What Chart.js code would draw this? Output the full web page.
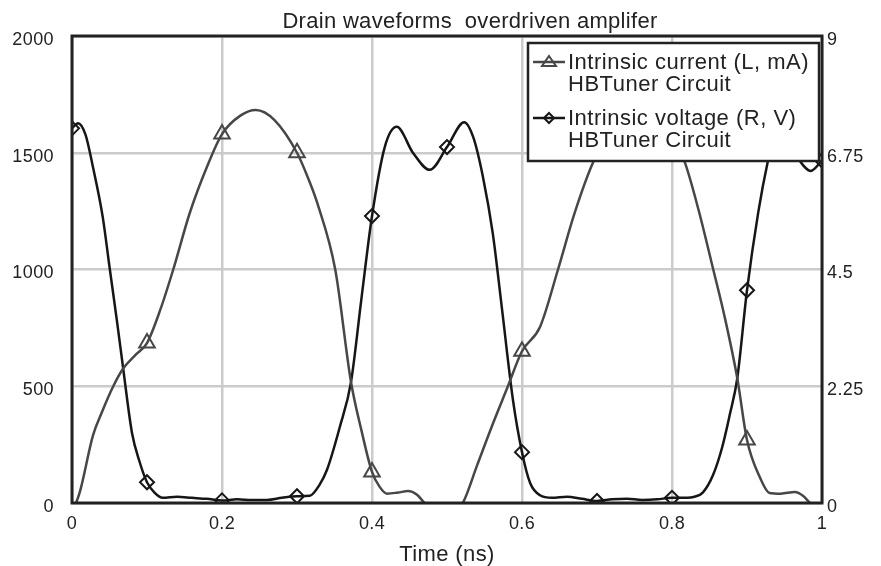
<!DOCTYPE html>
<html>
<head>
<meta charset="utf-8">
<title>Drain waveforms</title>
<script src="https://cdn.jsdelivr.net/npm/chart.js@4"></script>
<style>
  body { margin: 0; background: #fff; }
  #chart { display: block; }
</style>
</head>
<body>
<canvas id="chart" width="881" height="566"></canvas>
<script>
// Intrinsic current (left axis, mA)
const currentTime = [0, 0.01, 0.028, 0.04, 0.055, 0.068, 0.085, 0.1, 0.118, 0.135, 0.157, 0.18, 0.2, 0.225, 0.245, 0.27, 0.3, 0.315, 0.327, 0.351, 0.372, 0.386, 0.4, 0.41, 0.42, 0.435, 0.448, 0.46, 0.47, 0.49, 0.5, 0.51, 0.521, 0.54, 0.56, 0.58, 0.6, 0.624, 0.648, 0.67, 0.695, 0.72, 0.75, 0.78, 0.8, 0.817, 0.835, 0.855, 0.87, 0.887, 0.9, 0.917, 0.93, 0.945, 0.964, 0.975, 0.984, 1.0];
const currentValues = [-40, 42, 290, 390, 500, 575, 635, 685, 830, 1000, 1242, 1440, 1580, 1660, 1683, 1640, 1500, 1390, 1285, 1000, 518, 310, 133, 70, 40, 45, 51, 35, 0, -60, -60, -30, 0, 160, 330, 490, 650, 754, 1000, 1240, 1460, 1600, 1680, 1640, 1570, 1460, 1260, 1000, 800, 535, 270, 111, 43, 40, 47, 30, 0, -40];

// Intrinsic voltage (right axis, V)
const voltageTime = [0, 0.008, 0.018, 0.028, 0.041, 0.05, 0.06, 0.068, 0.08, 0.09, 0.1, 0.11, 0.121, 0.14, 0.16, 0.18, 0.2, 0.22, 0.24, 0.26, 0.28, 0.3, 0.317, 0.33, 0.34, 0.357, 0.372, 0.386, 0.4, 0.417, 0.433, 0.455, 0.477, 0.5, 0.523, 0.535, 0.548, 0.561, 0.573, 0.588, 0.6, 0.611, 0.624, 0.64, 0.66, 0.68, 0.7, 0.72, 0.74, 0.76, 0.78, 0.8, 0.82, 0.83, 0.841, 0.855, 0.867, 0.877, 0.887, 0.9, 0.915, 0.928, 0.94, 0.955, 0.97, 0.985, 1.0];
const voltageValues = [7.22, 7.32, 7.1, 6.47, 5.51, 4.55, 3.5, 2.62, 1.35, 0.8, 0.4, 0.2, 0.1, 0.12, 0.1, 0.08, 0.05, 0.07, 0.06, 0.06, 0.1, 0.13, 0.14, 0.35, 0.64, 1.46, 2.33, 3.95, 5.53, 6.86, 7.25, 6.74, 6.42, 6.86, 7.34, 7.05, 6.28, 5.2, 3.78, 1.98, 0.98, 0.38, 0.15, 0.1, 0.12, 0.08, 0.04, 0.07, 0.08, 0.06, 0.07, 0.1, 0.1, 0.12, 0.2, 0.55, 1.08, 1.7, 2.4, 4.1, 5.6, 6.6, 7.3, 7.0, 6.6, 6.4, 6.6];

const xTicks = [0, 0.2, 0.4, 0.6, 0.8, 1];
const leftTicks = [0, 500, 1000, 1500, 2000];
const rightTicks = [0, 2.25, 4.5, 6.75, 9];

const chartTitle = "Drain waveforms  overdriven amplifer";
const currentColor = "#474747";
const voltageColor = "#161616";
const ink = "#222";
const FONT = "'Liberation Sans', Arial, sans-serif";

// markers only every 0.1 ns
const isMarker = (t) => Math.abs(t * 10 - Math.round(t * 10)) < 1e-6;

function toPoints(times, values) {
  return times.map((t, i) => ({ x: t, y: values[i] }));
}

// title, frame around the plot and the boxed legend in the top right corner
const framePlugin = {
  id: "frameAndLegend",
  beforeDraw(chart) {
    chart.ctx.letterSpacing = "0.4px";
  },
  afterDatasetsDraw(chart) {
    const { ctx, chartArea: a } = chart;
    ctx.save();
    ctx.strokeStyle = ink;
    ctx.lineWidth = 3;
    ctx.strokeRect(a.left, a.top, a.right - a.left, a.bottom - a.top);

    ctx.fillStyle = ink;
    ctx.font = "22px " + FONT;
    ctx.letterSpacing = "0.3px";
    ctx.textAlign = "center";
    ctx.textBaseline = "alphabetic";
    ctx.fillText(chartTitle, 470, 28);

    // legend box
    const bx = 528, by = 43, bw = 291, bh = 118;
    ctx.fillStyle = "#fff";
    ctx.fillRect(bx, by, bw, bh);
    ctx.lineWidth = 2.5;
    ctx.strokeStyle = ink;
    ctx.strokeRect(bx, by, bw, bh);

    const items = [
      { color: currentColor, marker: "triangle", y: 62, lines: ["Intrinsic current (L, mA)", "HBTuner Circuit"] },
      { color: voltageColor, marker: "diamond", y: 118, lines: ["Intrinsic voltage (R, V)", "HBTuner Circuit"] },
    ];
    items.forEach((it) => {
      ctx.strokeStyle = it.color;
      ctx.lineWidth = 2.5;
      ctx.beginPath();
      ctx.moveTo(533, it.y);
      ctx.lineTo(565, it.y);
      ctx.stroke();
      const cx = 549;
      ctx.lineWidth = 2;
      ctx.beginPath();
      if (it.marker === "triangle") {
        ctx.moveTo(cx, it.y - 6);
        ctx.lineTo(cx + 7, it.y + 4);
        ctx.lineTo(cx - 7, it.y + 4);
      } else {
        ctx.moveTo(cx, it.y - 5);
        ctx.lineTo(cx + 5, it.y);
        ctx.lineTo(cx, it.y + 5);
        ctx.lineTo(cx - 5, it.y);
      }
      ctx.closePath();
      ctx.stroke();

      ctx.fillStyle = ink;
      ctx.font = "22px " + FONT;
      ctx.letterSpacing = "0.5px";
      ctx.textAlign = "left";
      ctx.fillText(it.lines[0], 568, it.y + 7);
      ctx.fillText(it.lines[1], 568, it.y + 29);
    });
    ctx.restore();
  },
};

const ctx = document.getElementById("chart").getContext("2d");

const config = {
  type: "line",
  data: {
    datasets: [
      {
        label: "Intrinsic current (L, mA) HBTuner Circuit",
        data: toPoints(currentTime, currentValues),
        yAxisID: "y",
        borderColor: currentColor,
        borderWidth: 2.5,
        cubicInterpolationMode: "monotone",
        pointStyle: "triangle",
        pointRadius: (c) => (c.raw && isMarker(c.raw.x) ? 9 : 0),
        pointBorderColor: currentColor,
        pointBackgroundColor: "rgba(0,0,0,0)",
        pointBorderWidth: 2,
        clip: 0,
      },
      {
        label: "Intrinsic voltage (R, V) HBTuner Circuit",
        data: toPoints(voltageTime, voltageValues),
        yAxisID: "y2",
        borderColor: voltageColor,
        borderWidth: 2.5,
        cubicInterpolationMode: "monotone",
        pointStyle: "rectRot",
        pointRadius: (c) => (c.raw && isMarker(c.raw.x) ? 7 : 0),
        pointBorderColor: voltageColor,
        pointBackgroundColor: "rgba(0,0,0,0)",
        pointBorderWidth: 2,
        clip: 0,
      },
    ],
  },
  options: {
    responsive: false,
    devicePixelRatio: 1,
    animation: false,
    layout: { padding: { top: 36 } },
    plugins: {
      legend: { display: false },
      tooltip: { enabled: false },
      title: { display: false },
    },
    scales: {
      x: {
        type: "linear",
        min: 0,
        max: 1,
        afterBuildTicks: (s) => { s.ticks = xTicks.map((v) => ({ value: v })); },
        ticks: { color: ink, font: { family: FONT, size: 18 }, padding: 10, maxRotation: 0, callback: (v) => String(v) },
        grid: { color: "#cbcbcb", lineWidth: 2.5, drawTicks: false },
        border: { display: false },
        title: {
          display: true,
          text: "Time (ns)",
          color: ink,
          font: { family: FONT, size: 22, lineHeight: 1 },
          padding: 0,
        },
        afterFit: (s) => { s.height = 63; },
      },
      y: {
        position: "left",
        min: 0,
        max: 2000,
        afterBuildTicks: (s) => { s.ticks = leftTicks.map((v) => ({ value: v })); },
        ticks: { color: ink, font: { family: FONT, size: 18 }, padding: 18, labelOffset: 4, callback: (v) => String(v) },
        grid: { color: "#cbcbcb", lineWidth: 2.5, drawTicks: false },
        border: { display: false },
        afterFit: (s) => { s.width = 72; },
      },
      y2: {
        position: "right",
        min: 0,
        max: 9,
        afterBuildTicks: (s) => { s.ticks = rightTicks.map((v) => ({ value: v })); },
        ticks: { color: ink, font: { family: FONT, size: 18 }, padding: 5, labelOffset: 4, callback: (v) => String(v) },
        grid: { display: false, drawTicks: false },
        border: { display: false },
        afterFit: (s) => { s.width = 59; },
      },
    },
  },
  plugins: [framePlugin],
};

const myChart = new Chart(ctx, config);
</script>
</body>
</html>
